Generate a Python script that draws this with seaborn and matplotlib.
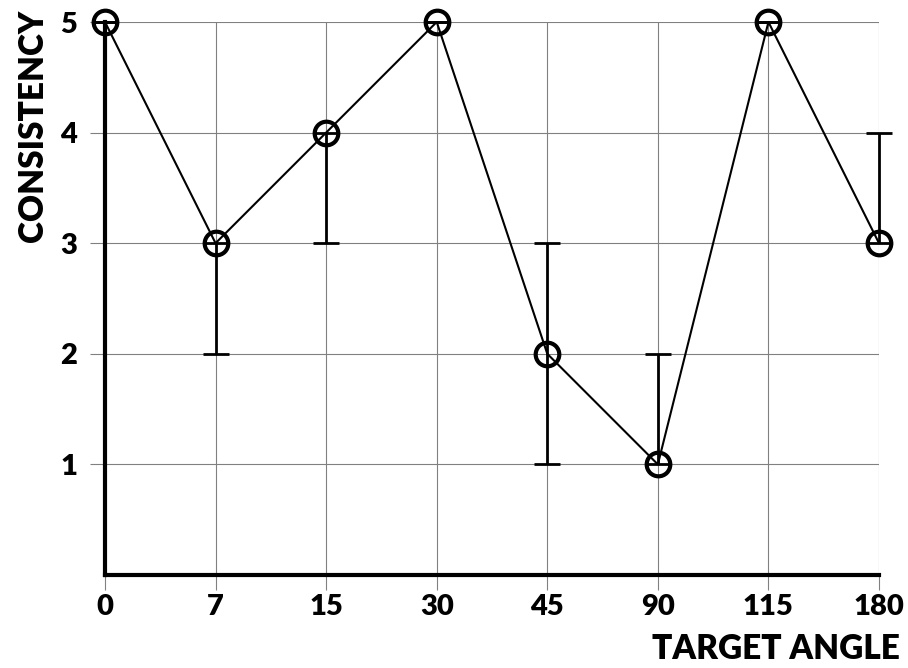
import numpy as np
import pandas as pd
import matplotlib.pyplot as plt
import seaborn as sns

# target angles (categorical) and consistency scores
angles = ['0', '7', '15', '30', '45', '90', '115', '180']
consistency = [5, 3, 4, 5, 2, 1, 5, 3]
err_low = [0, 1, 1, 0, 1, 0, 0, 0]
err_high = [0, 0, 0, 0, 1, 1, 0, 1]

sns.set_theme(style='white')
plt.rcParams['font.family'] = ['Lato', 'DejaVu Sans']
plt.rcParams['font.weight'] = 'heavy'

df = pd.DataFrame({'pos': np.arange(len(angles)), 'consistency': consistency})

fig = plt.figure(figsize=(9.08, 6.68), dpi=100)
ax = fig.add_axes([105/908, 93/668, 774/908, 553/668])

eb = ax.errorbar(df['pos'], df['consistency'], yerr=[err_low, err_high], fmt='none',
                 ecolor='black', elinewidth=2, capsize=9.7, capthick=2, zorder=3)
for art in eb.lines[1] + eb.lines[2]:
    art.set_clip_on(False)
sns.lineplot(data=df, x='pos', y='consistency', ax=ax, color='black', linewidth=1.5,
             marker='o', markersize=17, markerfacecolor='none', markeredgecolor='black',
             markeredgewidth=3, zorder=4, clip_on=False)

ax.set_xlim(0, len(angles) - 1)
ax.set_ylim(0, 5)
ax.set_xticks(df['pos'])
ax.set_xticklabels(angles)
ax.set_yticks([1, 2, 3, 4, 5])
ax.grid(True, color='#808080', linewidth=0.8)
ax.set_axisbelow(True)

for s in ['top', 'right']:
    ax.spines[s].set_visible(False)
for s in ['left', 'bottom']:
    ax.spines[s].set_linewidth(3)
    ax.spines[s].set_color('black')
    ax.spines[s].set_zorder(5)

ax.tick_params(axis='both', which='major', direction='out', length=11, width=0.8,
               color='#808080', labelsize=21, labelcolor='black',
               left=True, bottom=True)
ax.tick_params(axis='x', pad=3)
ax.tick_params(axis='y', pad=9)

ax.set_xlabel('TARGET ANGLE', fontsize=24, fontweight='heavy', color='black', ha='right')
ax.xaxis.set_label_coords(1.027, -0.105)
ax.set_ylabel('CONSISTENCY', fontsize=24, fontweight='heavy', color='black', ha='right')
ax.yaxis.set_label_coords(-0.072, 1.022)

fig.savefig('out.png', dpi=100)
